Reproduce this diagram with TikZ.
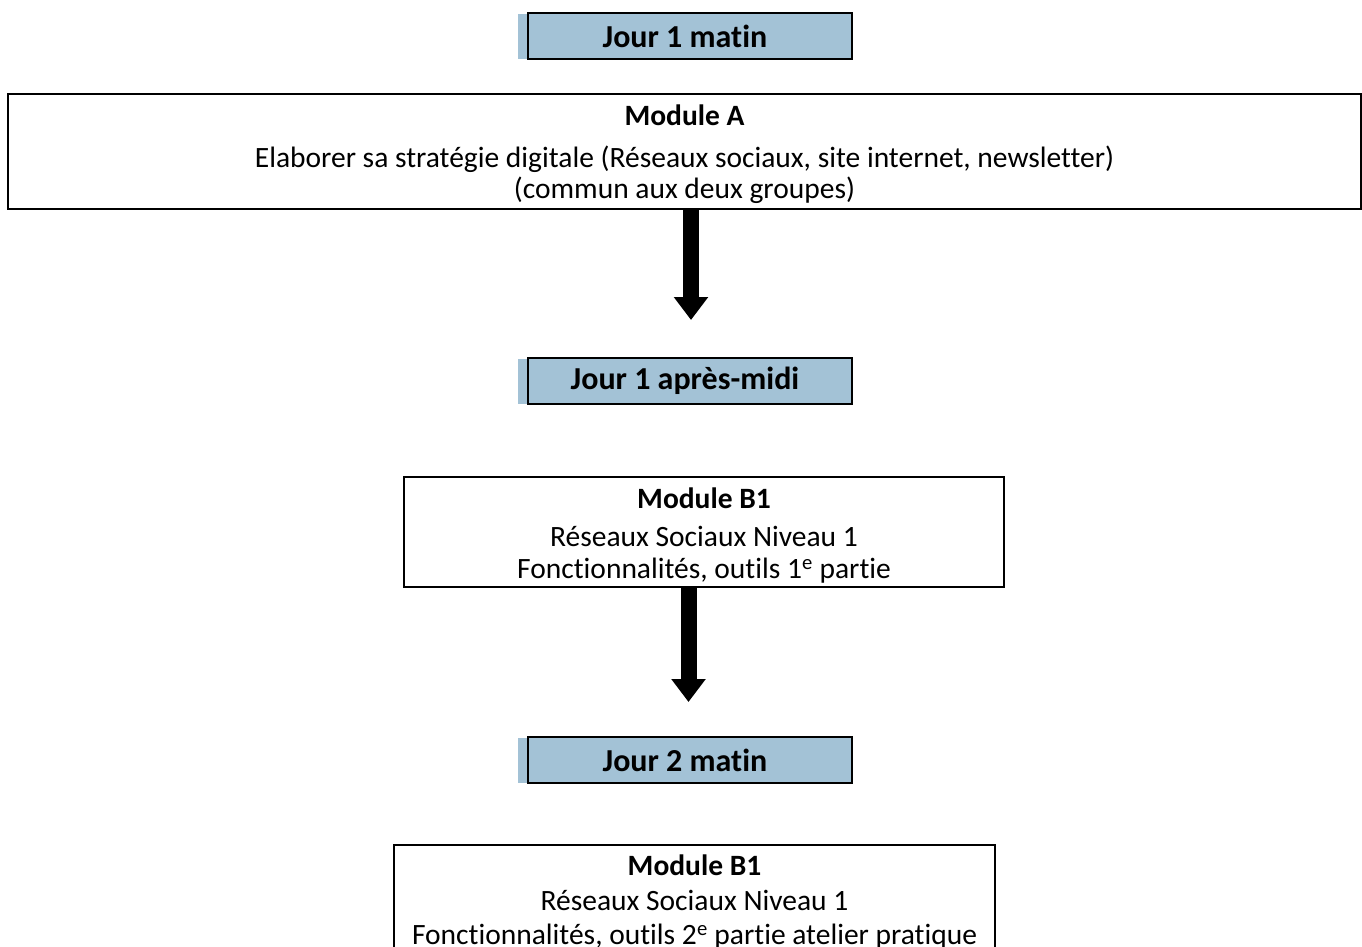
\documentclass[tikz,border=0pt]{standalone}
\usepackage{fontspec}
\setmainfont{Carlito}[Ligatures={NoCommon}]
\usetikzlibrary{arrows.meta,calc}
\definecolor{jourblue}{RGB}{163,194,214}
\begin{document}
\begin{tikzpicture}[x=1pt,y=-1pt,
  jour/.style={fill=jourblue, minimum width=334pt, minimum height=45pt, inner sep=0pt, font=\fontsize{32}{36}\selectfont\bfseries},
  jourborder/.style={draw=black, line width=2.2pt},
  module/.style={draw=black, line width=2pt, inner sep=0pt},
  modtext/.style={align=center, inner sep=0pt, font=\fontsize{29.5}{32}\selectfont},
  bigarrow/.style={line width=16pt, -{Triangle[width=33pt,length=23pt]}}]
\useasboundingbox (0,0) rectangle (1362,946);
\clip (0,0) rectangle (1362,946);
% Jour 1 matin
\node[jour] (j1) at (685,36) {Jour 1 matin};
\draw[jourborder] ([xshift=10pt]j1.north west) rectangle (j1.south east);
% Module A
\node[module, minimum width=1353pt, minimum height=115pt] (ma) at (684.5,151.5) {};
\node[modtext, font=\fontsize{29.5}{31}\selectfont] (maT) at ([yshift=-3pt]ma.center)
  {\textbf{Module A}\\[11pt]Elaborer sa stratégie digitale (Réseaux sociaux, site internet, newsletter)\\(commun aux deux groupes)};
\coordinate (t1) at (691,320);
\draw[bigarrow] (ma.south -| t1) -- (t1);
% Jour 1 apres-midi
\node[jour] (j2) at (685,381) {Jour 1 après-midi};
\draw[jourborder] ([xshift=10pt]j2.north west) rectangle (j2.south east);
% Module B1 (1)
\node[module, minimum width=600pt, minimum height=110pt] (mb1) at (704,532) {};
\node[modtext] (mb1T) at ([yshift=-4pt]mb1.center)
  {\textbf{Module B1}\\[6pt]Réseaux Sociaux Niveau 1\\Fonctionnalités, outils 1\textsuperscript{e} partie};
\coordinate (t2) at (688.5,702);
\draw[bigarrow] (mb1.south -| t2) -- (t2);
% Jour 2 matin
\node[jour] (j3) at (685,760) {Jour 2 matin};
\draw[jourborder] ([xshift=10pt]j3.north west) rectangle (j3.south east);
% Module B1 (2)
\node[module, minimum width=601pt, minimum height=111pt, anchor=north] (mb2) at (694.5,844) {};
\node[modtext, font=\fontsize{29.5}{34}\selectfont] (mb2T) at ([yshift=-2pt]mb2.center)
  {\textbf{Module B1}\\[1pt]Réseaux Sociaux Niveau 1\\Fonctionnalités, outils 2\textsuperscript{e} partie atelier pratique};
\end{tikzpicture}
\end{document}
